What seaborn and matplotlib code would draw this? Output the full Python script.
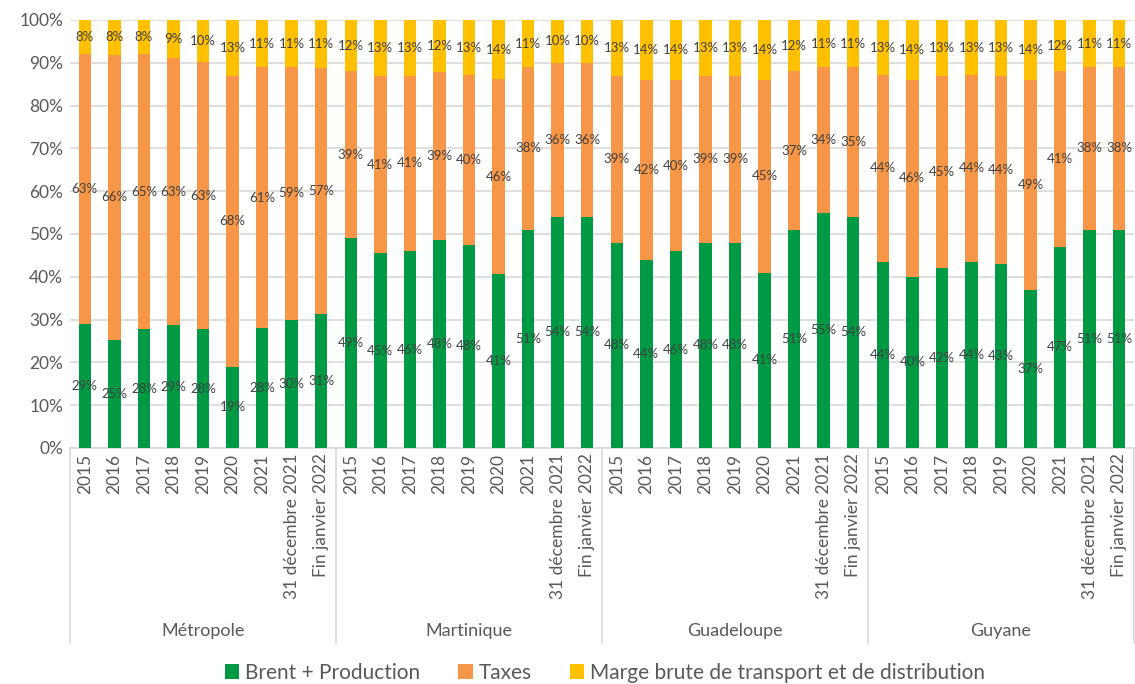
import matplotlib
matplotlib.use("Agg")
import matplotlib.pyplot as plt
from matplotlib.lines import Line2D
from matplotlib.patches import Patch
import numpy as np
import pandas as pd
import seaborn as sns

# Regions and periods
regions = ["Métropole", "Martinique", "Guadeloupe", "Guyane"]
periods = ["2015", "2016", "2017", "2018", "2019", "2020", "2021",
           "31 décembre 2021", "Fin janvier 2022"]

# Share of the pump price (%), per region, per period
brent = {
    "Métropole":  [29, 25, 28, 29, 28, 19, 28, 30, 31],
    "Martinique": [49, 45, 46, 48, 48, 41, 51, 54, 54],
    "Guadeloupe": [48, 44, 46, 48, 48, 41, 51, 55, 54],
    "Guyane":     [44, 40, 42, 44, 43, 37, 47, 51, 51],
}
taxes = {
    "Métropole":  [63, 66, 65, 63, 63, 68, 61, 59, 57],
    "Martinique": [39, 41, 41, 39, 40, 46, 38, 36, 36],
    "Guadeloupe": [39, 42, 40, 39, 39, 45, 37, 34, 35],
    "Guyane":     [44, 46, 45, 44, 44, 49, 41, 38, 38],
}
marge = {
    "Métropole":  [8, 8, 8, 9, 10, 13, 11, 11, 11],
    "Martinique": [12, 13, 13, 12, 13, 14, 11, 10, 10],
    "Guadeloupe": [13, 14, 14, 13, 13, 14, 12, 11, 11],
    "Guyane":     [13, 14, 13, 13, 13, 14, 12, 11, 11],
}

series_names = ["Brent + Production", "Taxes",
                "Marge brute de transport et de distribution"]
colors = ["#009A44", "#F79646", "#FFC000"]
text_grey = "#595959"
label_grey = "#404040"

# Long table, one row per bar
rows = []
for r in regions:
    for i, p in enumerate(periods):
        b, t, m = brent[r][i], taxes[r][i], marge[r][i]
        total = b + t + m
        rows.append({"key": f"{r} | {p}", "region": r, "period": p,
                     "b": b, "t": t, "m": m,
                     # 100 % stacked: each bar is scaled to its own total
                     "b_n": b / total, "t_n": t / total, "m_n": m / total})
df = pd.DataFrame(rows)
df["c1"] = df["b_n"]
df["c2"] = df["b_n"] + df["t_n"]
df["c3"] = df["c2"] + df["m_n"]
order = list(df["key"])

sns.set_theme(style="white")
plt.rcParams["font.family"] = ["Lato", "DejaVu Sans"]

fig = plt.figure(figsize=(11.35, 6.84), dpi=100)
ax = fig.add_axes([70 / 1135, 1 - 448 / 684, (1134 - 70) / 1135, 428 / 684])

# Stacked bars drawn from the top segment down
for col, color in zip(["c3", "c2", "c1"], colors[::-1]):
    sns.barplot(data=df, x="key", y=col, order=order, color=color,
                width=0.42, saturation=1, ax=ax, zorder=3, linewidth=0)

# Segment labels at the centre of each segment
for i, row in df.iterrows():
    segs = [(0, row["c1"], row["b"]), (row["c1"], row["c2"], row["t"]),
            (row["c2"], row["c3"], row["m"])]
    for lo, hi, v in segs:
        ax.text(i, (lo + hi) / 2, f"{v}%", ha="center", va="center",
                fontsize=9.5, color=label_grey, zorder=5)

ax.set_ylim(0, 1)
ax.set_xlim(-0.5, len(order) - 0.5)
ax.set_yticks(np.arange(0, 1.01, 0.1))
ax.set_yticklabels([f"{int(round(v * 100))}%" for v in np.arange(0, 1.01, 0.1)],
                   fontsize=12.5, color=text_grey)
ax.yaxis.grid(True, color="#D9D9D9", linewidth=1.2, zorder=0)
ax.set_axisbelow(True)
ax.set_xticks(range(len(order)))
ax.set_xticklabels(df["period"], rotation=90, fontsize=12.5, color=text_grey)
ax.tick_params(axis="both", length=0, pad=4)
ax.tick_params(axis="y", pad=5)
ax.set_xlabel("")
ax.set_ylabel("")
for s in ["top", "right", "left"]:
    ax.spines[s].set_visible(False)
ax.spines["bottom"].set_color("#D9D9D9")
ax.spines["bottom"].set_linewidth(1.2)

# Region separators and region names under the period labels
trans = ax.get_xaxis_transform()
n = len(periods)
for g in range(len(regions) + 1):
    x = g * n - 0.5
    ax.add_line(Line2D([x, x], [0, -(643 - 448) / 428], transform=trans,
                       color="#D9D9D9", linewidth=1.2, clip_on=False))
for g, r in enumerate(regions):
    ax.text(g * n + (n - 1) / 2, -(631 - 448) / 428, r, transform=trans,
            ha="center", va="center", fontsize=13, color=text_grey)

handles = [Patch(facecolor=c, edgecolor="none") for c in colors]
fig.legend(handles, series_names, loc="center", ncol=3,
           bbox_to_anchor=(605 / 1135, 1 - 673 / 684), frameon=False,
           fontsize=15, labelcolor=text_grey, handlelength=0.7,
           handleheight=0.7, handletextpad=0.3, columnspacing=1.8)

fig.savefig("out.png", dpi=100)
